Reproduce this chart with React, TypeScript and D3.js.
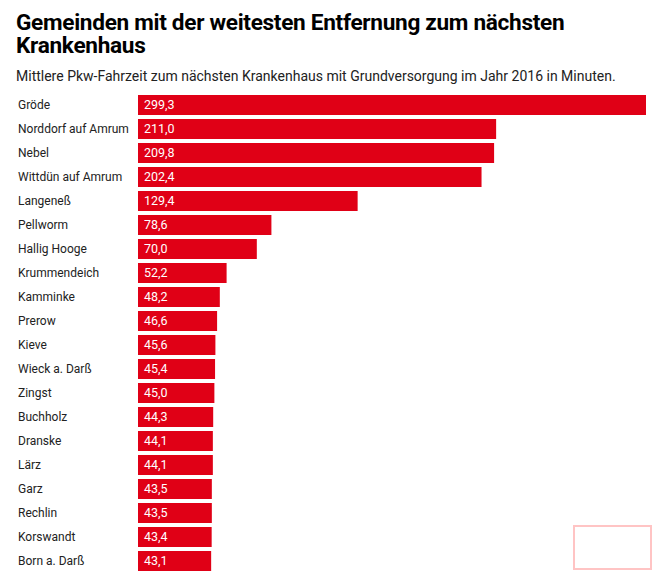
import React from "react";
import * as d3 from "d3";

const title = ["Gemeinden mit der weitesten Entfernung zum nächsten", "Krankenhaus"];
const subtitle = "Mittlere Pkw-Fahrzeit zum nächsten Krankenhaus mit Grundversorgung im Jahr 2016 in Minuten.";

const names = [
  "Gröde", "Norddorf auf Amrum", "Nebel", "Wittdün auf Amrum", "Langeneß", "Pellworm",
  "Hallig Hooge", "Krummendeich", "Kamminke", "Prerow", "Kieve", "Wieck a. Darß",
  "Zingst", "Buchholz", "Dranske", "Lärz", "Garz", "Rechlin", "Korswandt", "Born a. Darß",
];
const values = [
  299.3, 211.0, 209.8, 202.4, 129.4, 78.6, 70.0, 52.2, 48.2, 46.6, 45.6, 45.4,
  45.0, 44.3, 44.1, 44.1, 43.5, 43.5, 43.4, 43.1,
];

const W = 658, H = 575;
const FONT = "Roboto, 'Noto Sans', sans-serif";

export default function App() {
  const x = d3.scaleLinear().domain([0, 299.3]).range([138, 646]);
  const y = d3.scaleBand<string>().domain(names).range([93, 573]).paddingInner(4 / 24).paddingOuter(2 / 24);
  const fmt = (v: number) => v.toFixed(1).replace(".", ",");
  return (
    <svg width={W} height={H} style={{ position: "absolute", left: 0, top: 0, background: "#fff" }}>
      <g fontFamily={FONT}>
        <text x={16} y={30} fontSize={22.6} fontWeight={700} fill="#000" letterSpacing={-0.3}>{title[0]}</text>
        <text x={16} y={53} fontSize={22.6} fontWeight={700} fill="#000" letterSpacing={-0.3}>{title[1]}</text>
        <text x={16} y={81} fontSize={14} fill="#222">{subtitle}</text>
        {names.map((n, i) => (
          <g key={n}>
            <text x={18} y={y(n)! + y.bandwidth() / 2} dy="0.35em" fontSize={12} fill="#222">{n}</text>
            <rect x={x(0)} y={y(n)} width={x(values[i]) - x(0)} height={y.bandwidth()} fill="#e00016" />
            <text x={x(0) + 6} y={y(n)! + y.bandwidth() / 2} dy="0.35em" fontSize={12.5} fill="#fff">{fmt(values[i])}</text>
          </g>
        ))}
        <rect x={574} y={526} width={77} height={43} fill="none" stroke="#ffc4c4" strokeWidth={2} />
      </g>
    </svg>
  );
}
